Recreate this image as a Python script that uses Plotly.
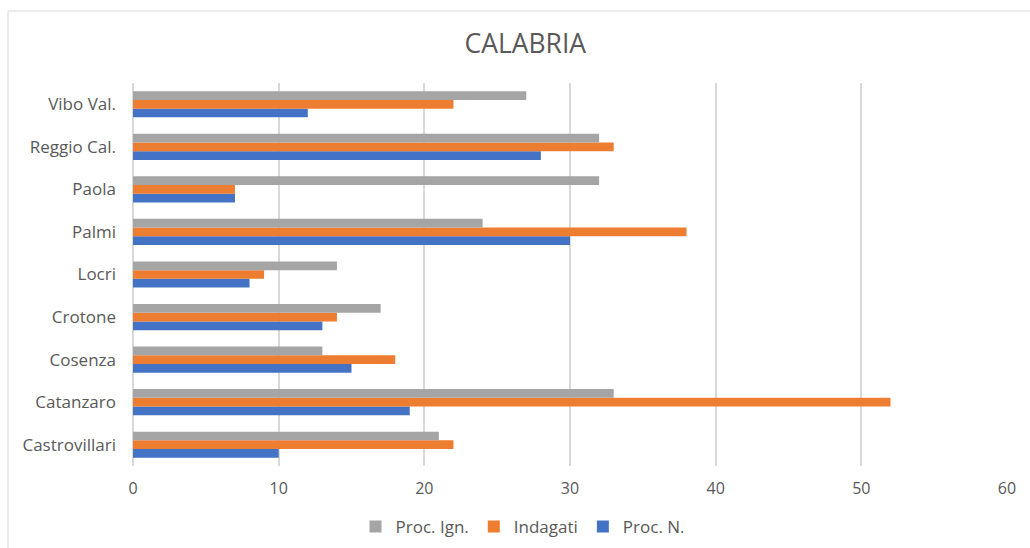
import plotly.graph_objects as go

# Courts (bottom to top) and counts per series
tribunali = ["Castrovillari", "Catanzaro", "Cosenza", "Crotone", "Locri",
             "Palmi", "Paola", "Reggio Cal.", "Vibo Val."]
proc_n = [10, 19, 15, 13, 8, 30, 7, 28, 12]
indagati = [22, 52, 18, 14, 9, 38, 7, 33, 22]
proc_ign = [21, 33, 13, 17, 14, 24, 32, 32, 27]

x_ticks = [0, 10, 20, 30, 40, 50, 60]

FONT = "Open Sans"
TXT = "#595959"
GRID = "#D9D9D9"

fig = go.Figure()
fig.add_trace(go.Bar(y=tribunali, x=proc_n, name="Proc. N.", orientation="h",
                     marker=dict(color="#4472C4", line=dict(width=0))))
fig.add_trace(go.Bar(y=tribunali, x=indagati, name="Indagati", orientation="h",
                     marker=dict(color="#ED7D31", line=dict(width=0))))
fig.add_trace(go.Bar(y=tribunali, x=proc_ign, name="Proc. Ign.", orientation="h",
                     marker=dict(color="#A5A5A5", line=dict(width=0))))

W, H = 1030, 548
L, R, T, B = 133, 23, 83, 82
pw, ph = W - L - R, H - T - B

fig.update_layout(
    width=W, height=H,
    margin=dict(l=L, r=R, t=T, b=B, pad=0, autoexpand=False),
    paper_bgcolor="white", plot_bgcolor="white",
    barmode="group", bargap=0.385, bargroupgap=0,
    font=dict(family=FONT, color=TXT, size=16),
    title=dict(text="CALABRIA", x=0.51, xanchor="center", y=1 - 44 / H,
               yanchor="middle", font=dict(family=FONT, size=26.5, color=TXT)),
    xaxis=dict(range=[0, 60], tickvals=x_ticks, showgrid=True,
               gridcolor=GRID, gridwidth=1.5, zeroline=True,
               zerolinecolor=GRID, zerolinewidth=1.5,
               showline=False, ticks="", tickfont=dict(size=16, color=TXT),
               ticklabelstandoff=11, fixedrange=True),
    yaxis=dict(type="category", categoryorder="array", categoryarray=tribunali,
               showgrid=False, zeroline=False, showline=False, ticks="",
               ticklabelstandoff=16, tickfont=dict(size=17, color=TXT),
               fixedrange=True),
    legend=dict(orientation="h", traceorder="reversed", x=(523 - L) / pw,
                xanchor="center", y=(T + ph - 527) / ph, yanchor="middle",
                font=dict(size=17, color=TXT), itemwidth=30,
                bgcolor="rgba(0,0,0,0)"),
    showlegend=True,
    shapes=[dict(type="rect", xref="paper", yref="paper",
                 x0=(8 - L) / pw, x1=(W + 5 - L) / pw,
                 y0=(T + ph - (H + 5)) / ph, y1=(T + ph - 11) / ph,
                 line=dict(color=GRID, width=1), fillcolor="rgba(0,0,0,0)",
                 layer="below")],
)

fig.write_html("out.html")
